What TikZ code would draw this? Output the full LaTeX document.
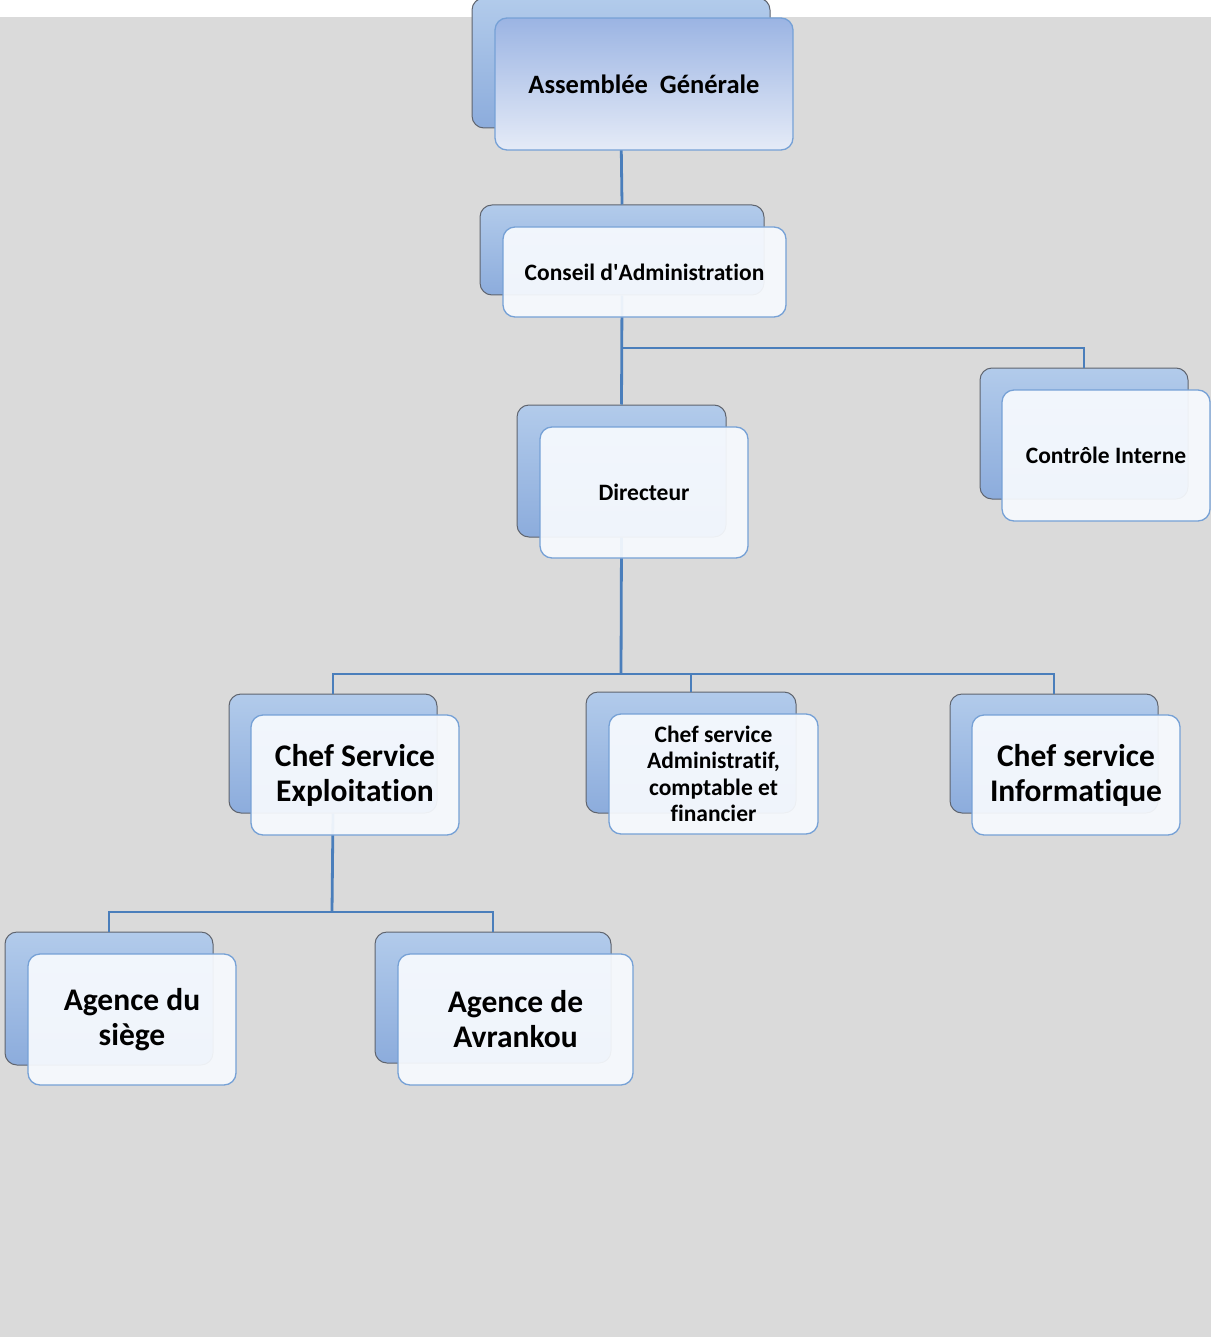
\documentclass[tikz,border=0pt]{standalone}
\usepackage{fontspec}
\setmainfont{Carlito}[Ligatures=NoCommon]
\usetikzlibrary{calc}
\definecolor{wire}{RGB}{74,126,187}
\definecolor{backtop}{RGB}{178,203,235}
\definecolor{backbot}{RGB}{140,172,220}
\definecolor{backline}{RGB}{95,100,110}
\definecolor{frontline}{RGB}{118,161,214}
\definecolor{frontfill}{RGB}{247,250,254}
\definecolor{marble}{RGB}{218,218,218}
\definecolor{agtop}{RGB}{155,180,227}
\definecolor{agbot}{RGB}{229,235,247}
\tikzset{
  backcard/.style={rectangle,rounded corners=12pt,draw=backline,line width=1pt,
    top color=backtop,bottom color=backbot,inner sep=0pt},
  frontcard/.style={rectangle,rounded corners=12pt,draw=frontline,line width=1.3pt,
    fill=frontfill,fill opacity=0.93,text opacity=1,align=center,inner sep=0pt},
  wireline/.style={draw=wire,line width=2.8pt},
  smalltxt/.style={font=\bfseries\fontsize{23.5}{26.5}\selectfont},
  bigtxt/.style={font=\bfseries\fontsize{31.5}{35}\selectfont},
}

\begin{document}
\begin{tikzpicture}[x=1pt,y=-1pt]
  \useasboundingbox (0,0) rectangle (1211,1337);
  \fill[white] (0,0) rectangle (1211,17);
  \fill[marble] (0,17) rectangle (1211,1337);

  % back cards
  \node[backcard,minimum width=298,minimum height=130] (agB) at (621,63) {};
  \node[backcard,minimum width=284,minimum height=90] (caB) at (622,250) {};
  \node[backcard,minimum width=209,minimum height=132] (dirB) at (621.5,471) {};
  \node[backcard,minimum width=208,minimum height=131] (ciB) at (1084,433.5) {};
  \node[backcard,minimum width=208,minimum height=119] (expB) at (333,753.5) {};
  \node[backcard,minimum width=210,minimum height=121] (admB) at (691,752.5) {};
  \node[backcard,minimum width=208,minimum height=119] (infB) at (1054,753.5) {};
  \node[backcard,minimum width=208,minimum height=133] (sieB) at (109,998.5) {};
  \node[backcard,minimum width=236,minimum height=131] (avrB) at (493,997.5) {};

  % connectors
  \coordinate (j1) at (621,348);
  \coordinate (j2) at (621,674);
  \coordinate (j3) at (332,912);
  \draw[wireline] (agB.south) -- (caB.north);
  \draw[wireline] (caB.south) -- (dirB.north);
  \draw[wireline] (j1) -| (ciB.north);
  \draw[wireline] (dirB.south) -- (j2);
  \draw[wireline] (expB.north) |- (j2) -| (infB.north);
  \draw[wireline] (admB.north) -- (admB.north |- j2);
  \draw[wireline] (expB.south) -- (j3);
  \draw[wireline] (sieB.north) |- (j3) -| (avrB.north);

  % front cards
  \node[frontcard,fill opacity=1,top color=agtop,bottom color=agbot,
    minimum width=298,minimum height=132,font=\bfseries\fontsize{26.5}{30}\selectfont]
    (ag) at (644,84) {Assemblée\ \ Générale};
  \node[frontcard,smalltxt,minimum width=283,minimum height=90] (ca) at (644.5,272) {Conseil d\textquotesingle Administration};
  \node[frontcard,smalltxt,minimum width=208,minimum height=131] (dir) at (644,492.5) {Directeur};
  \node[frontcard,smalltxt,minimum width=208,minimum height=131] (ci) at (1106,455.5) {Contrôle Interne};
  \node[frontcard,bigtxt,minimum width=208,minimum height=120] (exp) at (355,775) {Chef Service\\Exploitation};
  \node[frontcard,smalltxt,minimum width=209,minimum height=120] (adm) at (713.5,774) {Chef service\\Administratif,\\comptable et\\financier};
  \node[frontcard,bigtxt,minimum width=208,minimum height=120] (inf) at (1076,775) {Chef service\\Informatique};
  \node[frontcard,bigtxt,minimum width=208,minimum height=131] (sie) at (132,1019.5) {Agence du\\siège};
  \node[frontcard,bigtxt,minimum width=235,minimum height=131] (avr) at (515.5,1019.5) {Agence de\\Avrankou};
\end{tikzpicture}
\end{document}
